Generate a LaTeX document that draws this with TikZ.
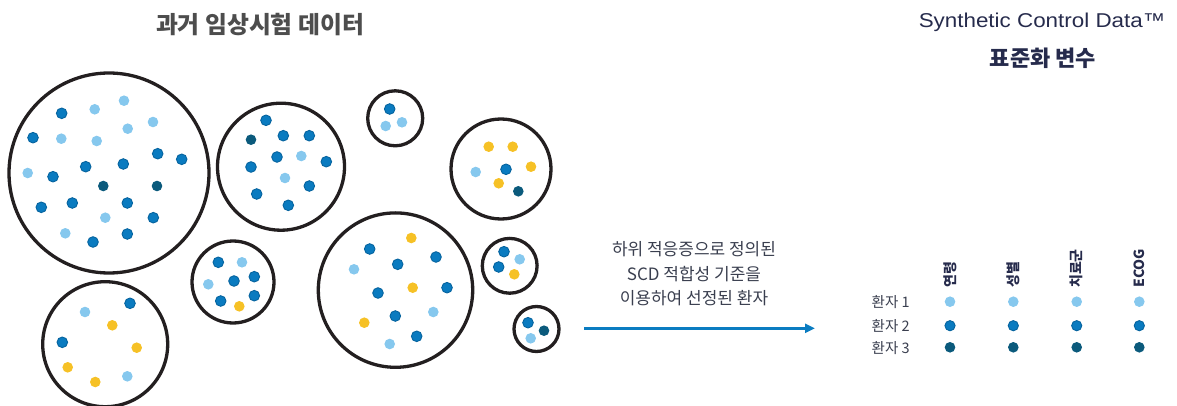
\documentclass[tikz,border=0pt]{standalone}
\usepackage{fontspec}
\setmainfont{Liberation Sans}
\newfontfamily\kr{Noto Sans CJK KR}
\usetikzlibrary{arrows.meta}
\definecolor{ltb}{HTML}{86C8EE}
\definecolor{mdb}{HTML}{0A7BC0}
\definecolor{mdbd}{HTML}{06649F}
\definecolor{dkb}{HTML}{0B5A7C}
\definecolor{yel}{HTML}{F6C126}
\definecolor{ringc}{HTML}{231F20}
\definecolor{titlegray}{HTML}{4D4D4D}
\definecolor{navy}{HTML}{262B4C}
\definecolor{txt}{HTML}{3A3F4F}
\definecolor{arrowc}{HTML}{0A7CC1}
\tikzset{
  ring/.style={circle, draw=ringc, line width=3.3pt, inner sep=0pt},
  ldot/.style={fill=ltb},
  mdot/.style={fill=mdb, draw=mdbd, line width=0.9pt},
  ddot/.style={fill=dkb},
  ydot/.style={fill=yel},
  coltext/.style={rotate=90, anchor=west, inner sep=0pt, text=navy, font=\kr\bfseries\fontsize{14}{14}\selectfont},
  rowtext/.style={anchor=west, inner sep=0pt, text=txt, font=\kr\fontsize{14.5}{14.5}\selectfont},
}
\newcommand\dotlist[2]{\foreach \px/\py in {#2} {\path[#1] (\px,\py) circle (5.3);}}
\begin{document}
\begin{tikzpicture}[x=1pt,y=-1pt]
\useasboundingbox (0,0) rectangle (1177,406);
% rings
\node[ring, minimum size=200pt] (c1) at (109,173) {};
\node[ring, minimum size=127pt] (c2) at (281,166.7) {};
\node[ring, minimum size=55pt] (c3) at (395.2,118.3) {};
\node[ring, minimum size=100pt] (c4) at (501,169) {};
\node[ring, minimum size=82pt] (c5) at (233,282) {};
\node[ring, minimum size=154.4pt] (c6) at (395.5,290.1) {};
\node[ring, minimum size=54.8pt] (c7) at (509.7,265.8) {};
\node[ring, minimum size=45pt] (c8) at (536.5,329) {};
\node[ring, minimum size=125pt] (c9) at (105.2,344.2) {};
% circle 1 dots
\dotlist{ldot}{94.7/109.3, 124/100.7, 153/122, 127.7/128.7, 61.3/138.7, 96.7/141, 27.7/173, 105.3/217.7, 65.3/233.3}
\dotlist{mdot}{61.7/113.3, 33/137.7, 157.7/153.7, 181.7/159.3, 85.7/166.7, 123.3/164, 53/176.7, 41.3/207.3, 72.3/203, 127.3/203, 153.3/217.7, 93/242, 127.3/234}
\dotlist{ddot}{103.3/186, 157/186}
% circle 2 dots
\dotlist{mdot}{266/120.3, 283.3/135.7, 309.3/135.7, 277/157, 326.3/161.7, 251/167, 309.3/186, 256.7/194, 288.3/205.3}
\dotlist{ddot}{251/139.7}
\dotlist{ldot}{301.3/156, 285/178}
% circle 3 dots
\dotlist{mdot}{389.7/109}
\dotlist{ldot}{385.7/126, 402/122.3}
% circle 4 dots
\dotlist{ydot}{488.7/146.7, 512.7/146.7, 531/166.7, 498.7/183.3}
\dotlist{ldot}{475.7/172}
\dotlist{mdot}{506/169.3}
\dotlist{ddot}{518.3/191.3}
% circle 5 dots
\dotlist{mdot}{218.3/262.3, 234/281, 254.3/276.7, 220.7/301, 254.3/295.7}
\dotlist{ldot}{242/262.3, 208.3/284.3}
\dotlist{ydot}{239.3/306.3}
% circle 6 dots
\dotlist{ydot}{411.3/238, 412.7/287.7, 364.3/322.7}
\dotlist{mdot}{369.7/249, 436/257, 397.7/264.3, 447/287.7, 378/293, 395.3/316, 416.7/336.3}
\dotlist{ldot}{354/269.3, 433.3/312, 389.7/344}
% circle 7 dots
\dotlist{mdot}{504/251.7, 498.7/267}
\dotlist{ldot}{519.7/259.3}
\dotlist{ydot}{514.3/274.3}
% circle 8 dots
\dotlist{mdot}{528/322.7}
\dotlist{ddot}{544/330.7}
\dotlist{ldot}{530.7/338.3}
% circle 9 dots
\dotlist{mdot}{130/303.3, 62.3/342.3}
\dotlist{ldot}{85/312, 127.3/376.3}
\dotlist{ydot}{112.3/325.3, 136.7/347.7, 67.7/367.3, 95.3/382}
% titles
\node[text=titlegray, font=\kr\bfseries\fontsize{23.8}{23.8}\selectfont, inner sep=0pt] (t1) at (260,25) {과거 임상시험 데이터};
\node[text=navy, font=\fontsize{20}{20}\selectfont, inner sep=0pt] (t2) at (1042,22) {\scalebox{1.12}[1]{Synthetic Control Data™}};
\node[text=navy, font=\kr\bfseries\fontsize{22}{22}\selectfont, inner sep=0pt] (t3) at (1043,58) {표준화 변수};
% middle text
\node[text=txt, font=\kr\fontsize{17}{24.5}\selectfont, align=center, inner sep=0pt] (mid) at (694,274) {하위 적응증으로 정의된\\SCD 적합성 기준을\\이용하여 선정된 환자};
% arrow
\coordinate (a0) at (584,328.3);
\coordinate (a1) at (815,328.3);
\draw[arrowc, line width=3pt, -{Triangle[length=10pt, width=9pt]}] (a0) -- (a1);
% table headers
\node[coltext] (h1) at (950,288) {연령};
\node[coltext] (h2) at (1013.3,288) {성별};
\node[coltext] (h3) at (1076.7,288) {치료군};
\node[coltext] (h4) at (1139.3,288) {ECOG};
% row labels
\node[rowtext] (r1) at (871.5,301.7) {환자 1};
\node[rowtext] (r2) at (871.5,325.7) {환자 2};
\node[rowtext] (r3) at (871.5,348.3) {환자 3};
% table dots
\foreach \cx in {950,1013.3,1076.7,1139.3} {
  \path[ldot] (\cx,301.7) circle (5.3);
  \path[mdot] (\cx,325.7) circle (5.1);
  \path[ddot] (\cx,347.3) circle (5.3);
}
\end{tikzpicture}
\end{document}
